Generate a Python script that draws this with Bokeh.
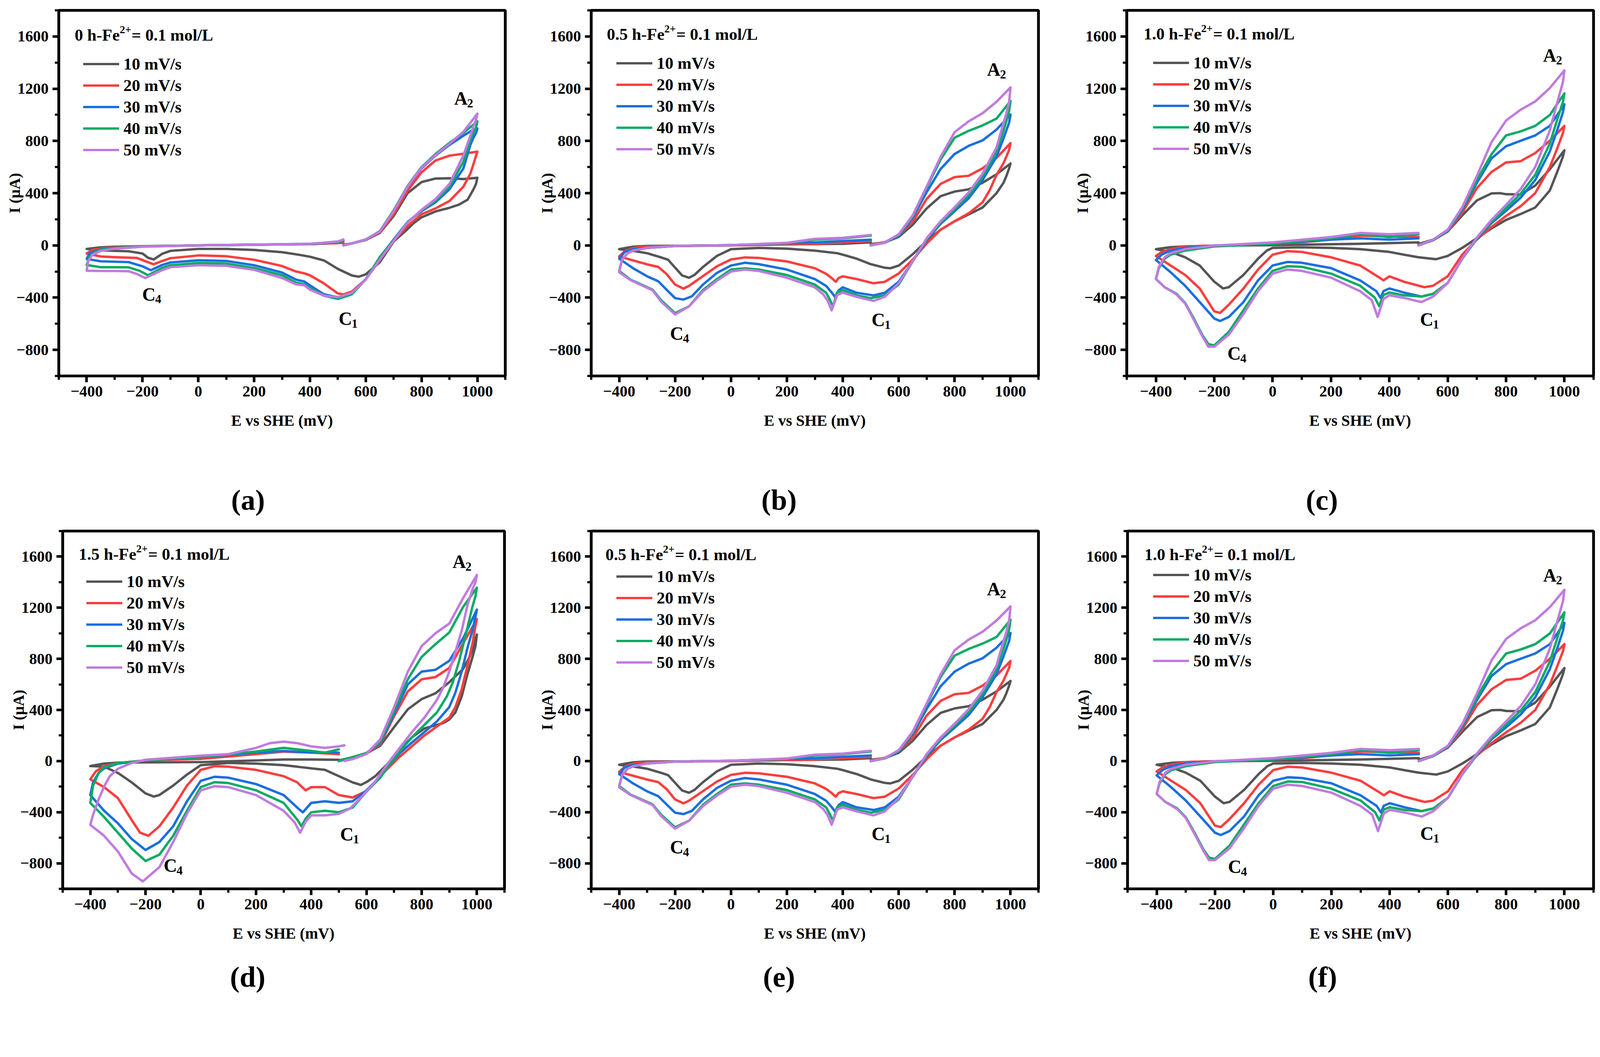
from bokeh.plotting import figure
from bokeh.models import Range1d, FixedTicker, Label, Legend, LegendItem
from bokeh.layouts import row, column
from bokeh.core.properties import value
from bokeh.embed import file_html
from bokeh.resources import INLINE

# ---------------- data ----------------
RATES = ["10 mV/s", "20 mV/s", "30 mV/s", "40 mV/s", "50 mV/s"]
COLORS = ["#555555", "#fa3e3e", "#1a6fdf", "#0bab64", "#c07bdf"]

X_TICKS = [-400, -200, 0, 200, 400, 600, 800, 1000]
X_MINOR = [-500, -300, -100, 100, 300, 500, 700, 900, 1100]
Y_TICKS = [-800, -400, 0, 400, 800, 1200, 1600]
Y_MINOR = [-1000, -600, -200, 200, 600, 1000, 1400, 1800]

HOURS = ["0", "0.5", "1.0", "1.5", "0.5", "1.0"]
CAPTIONS = ["(a)", "(b)", "(c)", "(d)", "(e)", "(f)"]

# panel (a): 0 h
A10 = [(520,5),(550,15),(600,42),(650,95),(700,225),(750,400),(800,485),(850,512),(900,514),(950,508),(1000,518),
       (995,470),(985,425),(965,350),(934,312),(900,288),(850,260),(800,215),(773,173),(742,109),(700,30),(650,-130),
       (600,-222),(575,-240),(550,-230),(500,-180),(450,-115),(400,-87),(350,-68),(300,-52),(200,-35),(100,-27),(0,-27),
       (-100,-42),(-130,-65),(-160,-108),(-180,-95),(-200,-62),(-250,-45),(-300,-42),(-350,-38),(-400,-27),
       (-350,-15),(-300,-10),(-200,-6),(0,0),(200,6),(400,10),(500,18),(520,20)]
A20 = [(520,5),(550,15),(600,45),(650,100),(700,240),(750,420),(800,560),(850,650),(900,687),(950,702),(1000,718),
       (990,650),(975,550),(950,450),(900,340),(850,283),(800,238),(750,150),(700,35),(650,-114),(600,-260),(550,-354),
       (520,-375),(500,-368),(450,-291),(400,-229),(380,-214),(350,-200),(300,-158),(200,-110),(100,-83),(0,-77),
       (-100,-98),(-130,-120),(-160,-145),(-185,-125),(-220,-96),(-300,-90),(-350,-85),(-400,-62),
       (-380,-35),(-350,-25),(-300,-15),(-200,-6),(0,0),(200,5),(400,10),(520,20)]
A30 = [(520,0),(550,15),(600,45),(650,105),(700,262),(750,448),(800,590),(850,688),(900,770),(950,840),(980,880),(1000,895),
       (995,860),(985,820),(975,770),(950,590),(900,430),(850,330),(800,262),(750,180),(700,45),(650,-94),(600,-260),
       (550,-364),(510,-402),(450,-375),(400,-306),(380,-277),(350,-262),(300,-208),(200,-152),(100,-119),(0,-114),
       (-100,-131),(-130,-150),(-170,-190),(-200,-160),(-250,-128),(-300,-125),(-350,-122),(-400,-104),
       (-390,-62),(-370,-42),(-350,-31),(-300,-20),(-200,-8),(0,0),(200,5),(400,10),(500,25),(520,35)]
A40 = [(520,0),(550,15),(600,45),(650,108),(700,268),(750,455),(800,600),(850,700),(900,785),(950,862),(1000,950),
       (995,900),(985,860),(975,805),(950,640),(900,450),(850,342),(800,267),(750,178),(700,40),(650,-90),(600,-260),
       (550,-375),(500,-410),(450,-385),(400,-327),(380,-298),(350,-285),(300,-229),(200,-173),(100,-139),(0,-135),
       (-100,-152),(-130,-172),(-180,-229),(-210,-195),(-250,-168),(-300,-167),(-350,-167),(-400,-150),
       (-390,-90),(-370,-52),(-350,-35),(-300,-20),(-200,-8),(0,0),(200,5),(400,12),(500,25),(520,40)]
A50 = [(520,0),(550,15),(600,45),(650,105),(700,260),(750,450),(800,595),(850,692),(900,778),(950,870),(1000,1008),
       (995,960),(985,905),(975,840),(950,690),(900,470),(850,355),(800,272),(750,175),(700,35),(650,-110),(600,-262),
       (550,-364),(500,-396),(450,-385),(400,-339),(380,-306),(350,-298),(300,-250),(200,-187),(100,-156),(0,-152),
       (-100,-167),(-130,-190),(-190,-250),(-220,-219),(-250,-198),(-300,-196),(-350,-196),(-400,-194),
       (-395,-125),(-380,-72),(-350,-42),(-300,-25),(-200,-10),(0,0),(200,5),(400,12),(500,30),(520,45)]

# panels (b) and (e): 0.5 h
B10 = [(500,10),(550,23),(600,65),(650,158),(700,283),(750,377),(800,412),(850,429),(900,480),(950,545),(1000,627),
       (995,590),(985,530),(975,480),(950,400),(900,290),(850,237),(800,185),(750,120),(700,35),(650,-68),(600,-155),
       (570,-175),(550,-171),(500,-144),(450,-102),(400,-71),(380,-60),(300,-40),(200,-25),(100,-19),(0,-29),(-50,-80),
       (-100,-165),(-130,-225),(-150,-248),(-175,-230),(-200,-170),(-225,-110),(-250,-92),(-300,-60),(-350,-42),(-400,-29),
       (-350,-10),(-300,-4),(0,0),(200,8),(400,12),(500,23)]
B20 = [(500,5),(550,25),(600,75),(650,179),(700,356),(750,471),(800,523),(850,533),(900,590),(950,670),(1000,783),
       (995,730),(985,680),(975,630),(950,540),(925,420),(900,330),(850,245),(800,185),(750,120),(700,15),(650,-109),
       (600,-215),(550,-279),(510,-290),(450,-258),(400,-237),(385,-250),(375,-279),(360,-250),(340,-217),(300,-175),
       (200,-123),(100,-96),(50,-92),(0,-108),(-50,-160),(-100,-235),(-150,-310),(-170,-331),(-200,-300),(-230,-220),
       (-260,-165),(-300,-145),(-350,-115),(-400,-85),
       (-380,-45),(-350,-20),(-300,-8),(0,0),(300,12),(500,33)]
B30 = [(500,0),(550,20),(600,75),(650,210),(700,408),(750,585),(800,700),(850,762),(900,804),(950,887),(1000,1002),
       (995,940),(985,880),(975,820),(950,680),(900,500),(850,360),(800,262),(750,165),(700,40),(650,-123),(600,-279),
       (550,-363),(510,-383),(450,-363),(400,-321),(385,-345),(372,-394),(360,-360),(340,-310),(300,-258),(200,-185),
       (100,-144),(50,-133),(0,-154),(-50,-210),(-100,-300),(-140,-390),(-170,-415),(-200,-404),(-230,-340),(-260,-275),
       (-300,-237),(-350,-175),(-400,-102),
       (-380,-50),(-350,-29),(-300,-19),(-200,-4),(0,2),(300,23),(500,44)]
B40 = [(500,0),(550,22),(600,80),(650,221),(700,440),(750,658),(800,825),(850,877),(900,919),(950,971),(1000,1106),
       (995,1030),(985,950),(975,880),(950,720),(900,525),(850,385),(800,278),(750,175),(700,48),(650,-123),(600,-300),
       (550,-383),(500,-404),(450,-383),(400,-342),(380,-360),(365,-467),(350,-400),(340,-362),(300,-300),(200,-227),
       (100,-185),(50,-175),(0,-185),(-50,-258),(-100,-342),(-150,-467),(-200,-519),(-250,-420),(-280,-340),(-320,-300),
       (-360,-262),(-400,-196),
       (-390,-112),(-370,-60),(-350,-40),(-300,-19),(-200,-4),(0,2),(200,17),(300,44),(400,54),(500,75)]
B50 = [(500,0),(550,22),(600,85),(650,230),(700,450),(750,679),(800,867),(850,950),(900,1012),(950,1100),(1000,1210),
       (995,1100),(985,1010),(975,940),(950,750),(900,550),(850,405),(800,292),(750,185),(700,55),(650,-122),(600,-290),
       (550,-394),(510,-425),(450,-394),(400,-362),(380,-380),(360,-498),(345,-420),(330,-375),(300,-321),(200,-248),
       (100,-196),(50,-185),(0,-200),(-50,-270),(-100,-352),(-150,-467),(-200,-529),(-250,-430),(-280,-345),(-320,-305),
       (-360,-265),(-400,-206),
       (-390,-112),(-370,-60),(-350,-40),(-300,-19),(-200,-4),(0,2),(200,20),(300,50),(400,58),(500,80)]

# panels (c) and (f): 1.0 h
C10 = [(500,10),(550,44),(600,106),(650,230),(700,344),(750,398),(780,400),(800,392),(850,390),(900,458),(950,583),(1000,728),
       (995,680),(985,620),(975,560),(950,420),(900,290),(850,240),(800,195),(750,130),(700,55),(650,-19),(600,-81),
       (560,-106),(500,-91),(450,-71),(400,-50),(300,-29),(200,-19),(100,-15),(0,-19),(-20,-40),(-50,-102),(-100,-226),
       (-150,-320),(-170,-330),(-200,-278),(-250,-154),(-300,-91),(-350,-50),(-400,-29),
       (-350,-14),(-300,-8),(-200,-2),(0,2),(300,12),(500,23)]
C20 = [(500,0),(550,40),(600,106),(650,251),(700,438),(750,562),(800,635),(850,645),(900,707),(950,801),(1000,915),
       (995,860),(985,800),(975,740),(950,600),(900,400),(850,300),(800,225),(750,140),(700,45),(650,-71),(600,-237),
       (550,-309),(520,-320),(450,-278),(400,-237),(380,-268),(365,-245),(340,-210),(300,-154),(200,-91),(100,-50),
       (50,-44),(0,-71),(-50,-185),(-100,-330),(-150,-454),(-180,-517),(-200,-505),(-250,-330),(-300,-226),(-350,-154),
       (-400,-81),
       (-380,-50),(-350,-29),(-300,-8),(0,12),(100,23),(200,44),(300,75),(400,68),(500,64)]
C30 = [(500,0),(550,40),(600,110),(650,272),(700,479),(750,666),(800,759),(850,801),(900,842),(950,915),(1000,1081),
       (995,1020),(985,950),(975,880),(950,720),(900,500),(850,365),(800,265),(750,170),(700,50),(650,-102),(600,-288),
       (550,-371),(510,-392),(450,-361),(400,-330),(380,-350),(370,-402),(355,-350),(300,-268),(200,-174),(100,-133),
       (50,-127),(0,-154),(-50,-268),(-100,-434),(-150,-548),(-180,-579),(-200,-560),(-250,-434),(-300,-309),(-350,-205),
       (-400,-112),
       (-380,-70),(-350,-40),(-300,-19),(-200,-2),(0,12),(200,44),(300,54),(400,44),(500,54)]
C40 = [(500,0),(550,42),(600,115),(650,282),(700,500),(750,697),(800,842),(850,873),(900,915),(950,998),(1000,1164),
       (995,1100),(985,1030),(975,960),(950,780),(900,540),(850,395),(800,285),(750,180),(700,55),(650,-102),(600,-288),
       (550,-371),(510,-392),(450,-382),(400,-361),(380,-380),(365,-465),(350,-400),(300,-309),(200,-216),(100,-164),
       (50,-160),(0,-195),(-50,-330),(-100,-496),(-150,-662),(-200,-766),(-220,-756),(-240,-690),(-270,-560),(-300,-440),
       (-330,-370),(-370,-320),(-400,-257),
       (-390,-174),(-370,-102),(-350,-71),(-300,-40),(-200,-8),(0,12),(200,54),(300,85),(400,64),(500,85)]
C50 = [(500,0),(550,44),(600,120),(650,293),(700,531),(750,790),(800,956),(850,1039),(900,1102),(950,1205),(1000,1340),
       (995,1250),(985,1170),(975,1090),(950,880),(900,600),(850,430),(800,310),(750,195),(700,60),(650,-100),(600,-288),
       (550,-392),(510,-434),(450,-402),(400,-382),(380,-410),(360,-548),(340,-420),(300,-351),(200,-247),(100,-195),
       (50,-185),(0,-216),(-50,-350),(-100,-525),(-150,-683),(-200,-776),(-220,-776),(-240,-700),(-270,-570),(-300,-445),
       (-330,-375),(-370,-320),(-400,-257),
       (-390,-164),(-370,-91),(-350,-60),(-300,-29),(-200,-2),(0,23),(200,64),(300,95),(400,85),(500,95)]

# panel (d): 1.5 h
D10 = [(500,5),(550,30),(600,60),(650,120),(700,265),(750,405),(800,485),(850,530),(900,617),(950,720),(975,820),(1000,990),
       (995,900),(985,820),(965,673),(945,505),(922,380),(900,325),(878,297),(855,283),(810,255),(765,186),(720,88),
       (676,-23),(631,-120),(600,-165),(580,-187),(550,-167),(500,-118),(450,-69),(400,-57),(300,-32),(200,-20),(100,-15),
       (0,-32),(-50,-106),(-100,-192),(-150,-266),(-170,-278),(-200,-253),(-250,-167),(-300,-93),(-350,-44),(-400,-39),
       (-350,-20),(-300,-12),(0,-8),(200,5),(300,12),(400,12),(500,10)]
D20 = [(500,0),(550,30),(600,60),(650,130),(700,350),(750,545),(800,640),(850,657),(900,729),(950,920),(1000,1111),
       (995,1060),(985,930),(967,756),(945,561),(922,422),(900,340),(855,270),(810,200),(765,116),(720,33),(676,-60),
       (650,-120),(600,-235),(550,-285),(500,-266),(450,-204),(400,-204),(380,-229),(360,-190),(350,-167),(300,-118),
       (200,-69),(100,-44),(50,-40),(0,-69),(-50,-192),(-100,-364),(-150,-511),(-190,-585),(-220,-560),(-250,-462),
       (-300,-290),(-350,-204),(-400,-143),
       (-380,-80),(-350,-40),(-300,-15),(-200,5),(0,17),(200,54),(300,74),(400,66),(500,54)]
D30 = [(500,0),(550,30),(600,62),(650,140),(700,370),(750,600),(800,700),(850,714),(900,784),(950,960),(1000,1185),
       (995,1130),(985,1030),(967,895),(945,700),(922,534),(900,422),(855,310),(810,227),(765,145),(720,60),(676,-50),
       (650,-120),(600,-230),(550,-315),(500,-327),(450,-315),(400,-327),(380,-376),(370,-401),(355,-375),(300,-266),
       (200,-180),(100,-130),(50,-123),(0,-155),(-50,-315),(-100,-511),(-150,-634),(-200,-696),(-250,-610),(-300,-487),
       (-350,-389),(-400,-266),
       (-390,-167),(-370,-93),(-350,-57),(-300,-20),(-200,5),(0,30),(200,66),(300,79),(400,66),(500,66)]
D40 = [(500,0),(550,30),(600,62),(650,150),(700,390),(750,640),(800,815),(850,915),(900,1006),(950,1205),(1000,1357),
       (995,1290),(983,1201),(960,992),(936,785),(913,617),(891,505),(855,380),(810,283),(765,186),(720,75),(676,-50),
       (650,-130),(600,-240),(550,-364),(500,-401),(450,-389),(400,-401),(380,-450),(365,-511),(350,-460),(300,-327),
       (200,-229),(100,-172),(50,-165),(0,-204),(-50,-389),(-100,-585),(-150,-733),(-200,-782),(-250,-684),(-300,-561),
       (-350,-438),(-400,-327),
       (-390,-192),(-370,-93),(-350,-49),(-300,-15),(-200,5),(0,30),(200,74),(300,103),(400,79),(450,66),(500,91)]
D50 = [(520,0),(550,15),(600,55),(650,170),(700,420),(750,700),(800,900),(850,1000),(900,1076),(950,1275),(1000,1456),
       (995,1400),(985,1350),(967,1229),(945,1020),(922,854),(900,700),(878,575),(855,478),(810,340),(765,227),(720,102),
       (676,-23),(631,-162),(586,-274),(541,-371),(500,-413),(450,-425),(400,-425),(380,-474),(360,-561),(340,-480),
       (300,-389),(200,-266),(100,-204),(50,-197),(0,-229),(-50,-413),(-100,-634),(-150,-831),(-210,-942),(-250,-880),
       (-300,-708),(-350,-585),(-400,-499),
       (-390,-420),(-370,-300),(-350,-200),(-330,-120),(-300,-60),(-250,-15),(-200,10),(0,42),(100,54),(200,103),
       (250,140),(300,152),(350,140),(400,115),(450,103),(500,115),(520,123)]

# peak labels: (letter, subscript, E, I)
ANN_A = [("C", "4", -177, -375), ("C", "1", 527, -562), ("A", "2", 941, 1124)]
ANN_B = [("C", "4", -194, -675), ("C", "1", 527, -571), ("A", "2", 940, 1346)]
ANN_C = [("C", "4", -132, -828), ("C", "1", 528, -568), ("A", "2", 950, 1454)]
ANN_D = [("C", "4", -110, -819), ("C", "1", 529, -573), ("A", "2", 936, 1559)]

# ---------------- styling / layout ----------------
S = 0.95          # page scale
FONT = "Liberation Serif"
TNR_BOLD = {" ": 250, "(": 333, ")": 333, "+": 570, "-": 333, ".": 250, "/": 278, "=": 570,
            "F": 611, "L": 667, "e": 444, "h": 556, "l": 278, "m": 833, "o": 500}


def ip(v):
    return int(round(v * S))


def fs(v):
    return "%.1fpx" % (v * S)


def text_w(s, size):
    return sum(TNR_BOLD.get(ch, 500) for ch in s) / 1000.0 * size


def fmt(v):
    return ("\u2212" + str(-v)) if v < 0 else str(v)


# key, curves, hours, width, height, left border, frame w, top border, frame h, title pos, legend x, legend top, annotations
CFG = [
    ("a", [A10, A20, A30, A40, A50], HOURS[0], 1432, 1195, 158, 1203, 27, 988, (-443, 1613), 66, 119, ANN_A),
    ("b", [B10, B20, B30, B40, B50], HOURS[1], 1439, 1195, 161, 1205, 27, 990, (-444, 1617), 68, 118, ANN_B),
    ("c", [C10, C20, C30, C40, C50], HOURS[2], 1441, 1195, 165, 1258, 24, 988, (-442, 1620), 72, 116, ANN_C),
    ("d", [D10, D20, D30, D40, D50], HOURS[3], 1432, 1165, 168, 1191, 34, 964, (-442, 1620), 64, 107, ANN_D),
    ("e", [B10, B20, B30, B40, B50], HOURS[4], 1439, 1165, 161, 1205, 19, 989, (-449, 1617), 68, 119, ANN_B),
    ("f", [C10, C20, C30, C40, C50], HOURS[5], 1441, 1165, 167, 1256, 15, 992, (-442, 1616), 70, 117, ANN_C),
]

ROW_H = 58


def make_panel(cfg):
    (key, curves, hours, width, height, bl, fw, bt, fh, tpos, lx, ltop, ann) = cfg
    W, H = ip(width), ip(height)
    BL, FW, BT, FH = ip(bl), ip(fw), ip(bt), ip(fh)
    p = figure(width=W, height=H,
               x_range=Range1d(-500, 1100), y_range=Range1d(-1000, 1800),
               output_backend="svg", toolbar_location=None,
               min_border_left=BL, min_border_right=W - BL - FW,
               min_border_top=BT, min_border_bottom=H - BT - FH,
               x_axis_label="E vs SHE (mV)", y_axis_label="I (\u03bcA)")
    p.xgrid.visible = False
    p.ygrid.visible = False
    p.background_fill_color = "white"
    p.border_fill_color = "white"
    p.outline_line_color = "black"
    p.outline_line_width = 7.5 * S
    p.outline_line_alpha = 1.0

    p.xaxis.ticker = FixedTicker(ticks=X_TICKS, minor_ticks=X_MINOR)
    p.yaxis.ticker = FixedTicker(ticks=Y_TICKS, minor_ticks=Y_MINOR)
    p.xaxis.major_label_overrides = {t: fmt(t) for t in X_TICKS}
    p.yaxis.major_label_overrides = {t: fmt(t) for t in Y_TICKS}
    for ax in (p.xaxis[0], p.yaxis[0]):
        ax.axis_line_width = 7.5 * S
        ax.axis_line_color = "black"
        ax.major_tick_line_width = 7 * S
        ax.minor_tick_line_width = 6 * S
        ax.major_tick_out = ip(17)
        ax.major_tick_in = 0
        ax.minor_tick_out = ip(10)
        ax.minor_tick_in = 0
        ax.major_label_text_font = FONT
        ax.major_label_text_font_size = fs(42)
        ax.major_label_text_font_style = "bold"
        ax.major_label_text_color = "black"
        ax.axis_label_text_font = FONT
        ax.axis_label_text_font_size = fs(42)
        ax.axis_label_text_font_style = "bold"
        ax.axis_label_text_color = "black"
    p.xaxis.major_label_standoff = ip(10)
    p.xaxis.axis_label_standoff = ip(38)
    p.yaxis.major_label_standoff = ip(11)
    p.yaxis.axis_label_standoff = -ip(22)

    items = []
    for pts, color, lab in zip(curves, COLORS, RATES):
        xs = [q[0] for q in pts]
        ys = [q[1] for q in pts]
        r = p.line(xs, ys, line_color=color, line_width=6.5 * S, line_join="round", line_cap="round")
        items.append(LegendItem(label=lab, renderers=[r]))
    rh = ip(ROW_H)
    leg = Legend(items=items, location=(ip(lx), FH - ip(ltop) - 5 * rh),
                 glyph_width=ip(97), glyph_height=rh, label_height=rh, label_standoff=ip(12),
                 spacing=0, padding=0, margin=0,
                 border_line_color=None, background_fill_alpha=0.0,
                 label_text_font=FONT, label_text_font_size=fs(45), label_text_font_style="bold",
                 label_text_color="black")
    p.add_layout(leg)

    tx, ty = tpos
    t1 = hours + " h-Fe"
    w1 = text_w(t1, 45)
    base = dict(text_font=FONT, text_font_style="bold", text_color="black", text_baseline="middle")
    p.add_layout(Label(x=tx, y=ty, text=t1, text_font_size=fs(45), text_align="left", **base))
    p.add_layout(Label(x=tx, y=ty, x_offset=w1 * S, y_offset=14 * S, text="2+", text_font_size=fs(29),
                       text_align="left", **base))
    p.add_layout(Label(x=tx, y=ty, x_offset=(w1 + text_w("2+", 29) + 1) * S, text="= 0.1 mol/L",
                       text_font_size=fs(45), text_align="left", **base))

    for letter, sub, ex, iy in ann:
        p.add_layout(Label(x=ex, y=iy, text=letter, text_font_size=fs(50), text_align="center", **base))
        p.add_layout(Label(x=ex, y=iy, x_offset=25 * S, y_offset=-13 * S, text=sub, text_font_size=fs(33),
                           text_align="center", **base))
    return p


def caption_strip(height, xs, y, texts, total_w):
    c = figure(width=ip(total_w), height=ip(height), x_range=Range1d(0, total_w), y_range=Range1d(height, 0),
               output_backend="svg", toolbar_location=None, min_border=0)
    c.axis.visible = False
    c.grid.visible = False
    c.outline_line_color = None
    c.background_fill_color = "white"
    c.border_fill_color = "white"
    c.text(x=xs, y=[y] * len(xs), text=texts, text_align="center", text_baseline="middle",
           text_font=value(FONT), text_font_size=value(fs(78)), text_font_style="bold", text_color="black")
    return c


panels = [make_panel(c) for c in CFG]
TOTAL_W = 1432 + 1439 + 1441
cap1 = caption_strip(202, [668, 2099, 3562], 152, CAPTIONS[:3], TOTAL_W)
cap2 = caption_strip(128, [667, 2099, 3564], 70, CAPTIONS[3:], TOTAL_W)
layout = column(row(*panels[:3]), cap1, row(*panels[3:]), cap2)

open("out.html", "w").write(file_html(layout, INLINE))
